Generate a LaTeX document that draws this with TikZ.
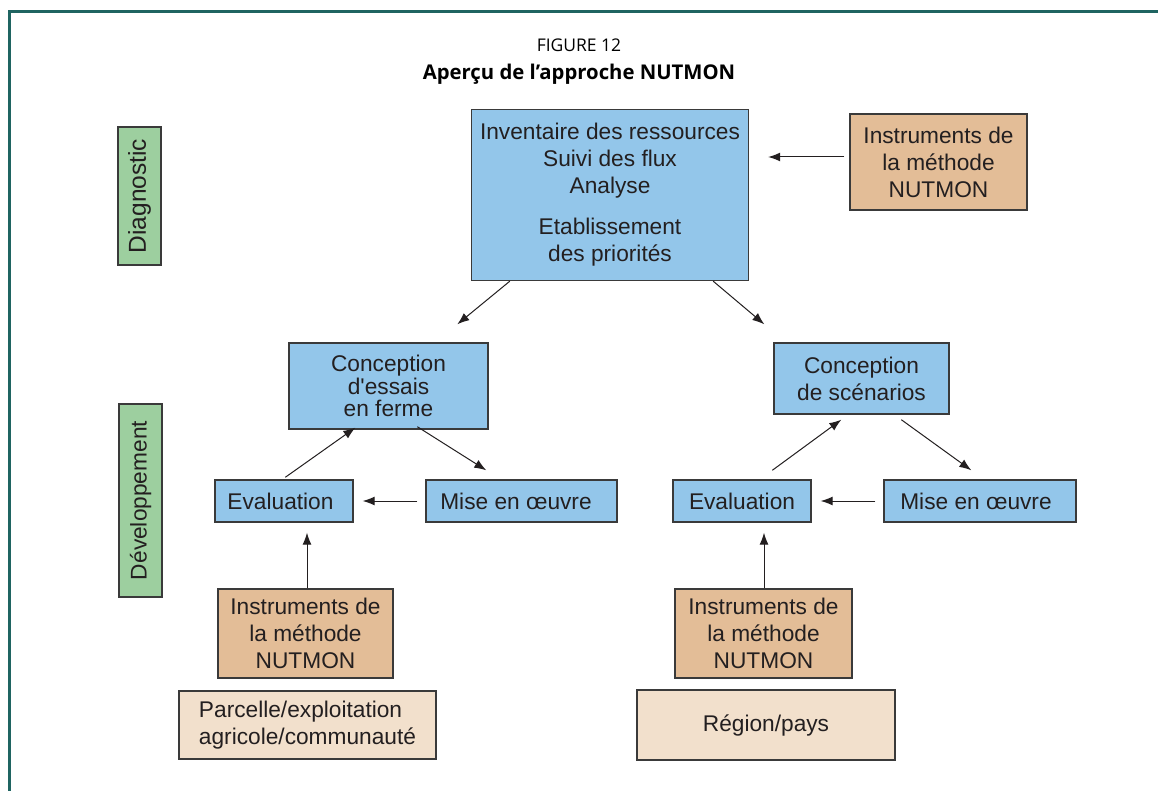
\documentclass[tikz,border=0pt]{standalone}
\usepackage{fontspec}
\setmainfont{Liberation Sans}
\newfontfamily\titlefont{Open Sans}
\usetikzlibrary{arrows.meta}

\definecolor{frameteal}{HTML}{1F6461}
\definecolor{boxblue}{HTML}{93C6EA}
\definecolor{boxtan}{HTML}{E3BD97}
\definecolor{boxgreen}{HTML}{9DCF9F}
\definecolor{boxpeach}{HTML}{F2E0CC}
\definecolor{edgegray}{HTML}{3A3A3A}
\definecolor{inkdark}{HTML}{231F20}

\tikzset{
  basebox/.style={draw=edgegray, line width=1.4pt, inner sep=0pt, align=center,
    text=inkdark, font=\fontsize{22.7}{27}\selectfont},
  bluebox/.style={basebox, fill=boxblue},
  tanbox/.style={basebox, fill=boxtan},
  peachbox/.style={basebox, fill=boxpeach},
  phasebox/.style={basebox, fill=boxgreen, rotate=90},
  arr/.style={-{Latex[length=12pt,width=9pt]}, line width=1pt, draw=inkdark},
}

\begin{document}
\begin{tikzpicture}[x=1pt,y=-1pt]
  \useasboundingbox (0,0) rectangle (1158,791);
  \fill[white] (0,0) rectangle (1158,791);

  % frame of the figure panel
  \draw[frameteal, line width=3pt] (9.5,795) -- (9.5,12) -- (1162,12);

  % heading
  \node (fig) at (579,45) {\titlefont\fontsize{17.5}{20}\selectfont FIGURE 12};
  \node (ttl) at (579,74) {\titlefont\bfseries\fontsize{20.3}{23}\selectfont Aper\c{c}u de l’approche NUTMON};

  % phase labels
  \node[phasebox, minimum width=138pt, minimum height=43pt, font=\fontsize{24.5}{27}\selectfont] (diag) at (139.5,196) {Diagnostic};
  \node[phasebox, minimum width=193pt, minimum height=43pt] (dev) at (140.5,500.5) {Développement};

  % diagnostic stage
  \node[bluebox, minimum width=277pt, minimum height=171pt] (top) at (610,195)
    {Inventaire des ressources\\Suivi des flux\\Analyse\\[14pt]Etablissement\\des priorités};
  \node[tanbox, minimum width=177pt, minimum height=96pt] (instA) at (938.5,162)
    {Instruments de\\la méthode\\NUTMON};

  % farm-level cycle
  \node[bluebox, minimum width=199pt, minimum height=86pt] (concl) at (388.5,386)
    {Conception\\[-4.5pt]d\textquotesingle essais\\[-4.5pt]en ferme};
  \node[bluebox, minimum width=138pt, minimum height=42pt] (evall) at (284,501)
    {Evaluation\hspace{7pt}};
  \node[bluebox, minimum width=191pt, minimum height=42pt] (misel) at (521.5,501)
    {Mise en \oe uvre\hspace{11pt}};
  \node[tanbox, minimum width=175pt, minimum height=89pt] (instL) at (305.5,633.5)
    {Instruments de\\la méthode\\NUTMON};
  \node[peachbox, minimum width=257pt, minimum height=68pt, align=left] (parc) at (307.5,725)
    {Parcelle/exploitation\\agricole/communauté\hspace{6pt}};

  % regional cycle
  \node[bluebox, minimum width=175pt, minimum height=71pt] (concr) at (861.5,378.5)
    {Conception\\de scénarios};
  \node[bluebox, minimum width=138pt, minimum height=42pt] (evalr) at (742,501)
    {Evaluation};
  \node[bluebox, minimum width=192pt, minimum height=42pt] (miser) at (980,501)
    {Mise en \oe uvre\hspace{8pt}};
  \node[tanbox, minimum width=177pt, minimum height=89pt] (instR) at (763.5,633.5)
    {Instruments de\\la méthode\\NUTMON};
  \node[peachbox, minimum width=258pt, minimum height=70pt] (reg) at (766,725)
    {Région/pays};

  % connectors
  \draw[arr] ([xshift=-5pt,yshift=5pt]instA.west) -- ([xshift=19pt,yshift=38pt]top.east);
  \draw[arr] ([xshift=39pt]top.south west) -- ([xshift=169pt,yshift=18pt]concl.north west);
  \draw[arr] ([xshift=-36pt]top.south east) -- ([xshift=-9pt,yshift=18pt]concr.north west);

  \draw[arr] ([xshift=71pt,yshift=2pt]evall.north west) -- ([xshift=67pt,yshift=2pt]concl.south west);
  \draw[arr] ([xshift=129pt,yshift=3pt]concl.south west) -- ([xshift=61pt,yshift=9pt]misel.north west);
  \draw[arr, shorten <=8pt, shorten >=9pt] (misel.west) -- (evall.east);
  \draw[arr, shorten >=10pt] ([xshift=1.5pt]instL.north) -- ([xshift=1.5pt]instL.north |- evall.south);

  \draw[arr] ([xshift=100pt,yshift=9pt]evalr.north west) -- ([xshift=68pt,yshift=-5pt]concr.south west);
  \draw[arr] ([xshift=128pt,yshift=-5pt]concr.south west) -- ([xshift=88pt,yshift=9pt]miser.north west);
  \draw[arr, shorten <=8pt, shorten >=9pt] (miser.west) -- (evalr.east);
  \draw[arr, shorten >=10pt] ([xshift=0.5pt]instR.north) -- ([xshift=0.5pt]instR.north |- evalr.south);
\end{tikzpicture}
\end{document}
